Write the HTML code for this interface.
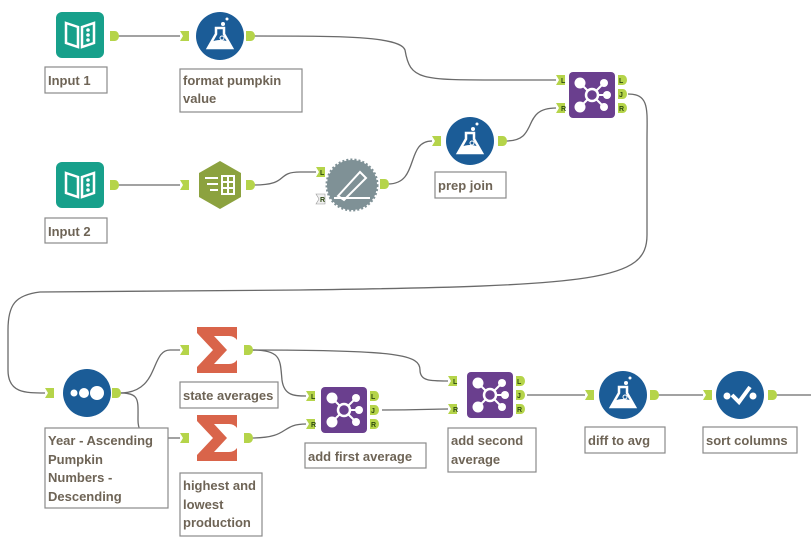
<!DOCTYPE html>
<html><head><meta charset="utf-8"><style>
html,body{margin:0;padding:0;background:#fff;}
svg{display:block;}
text{font-family:"Liberation Sans",sans-serif;font-size:13px;fill:#6e6456;font-weight:bold;}
.lb{fill:#fff;stroke:#8a8a8a;stroke-width:1.2;}
.w{fill:none;stroke:#6a6a6a;stroke-width:1.3;}
.a{fill:#b5d44a;}
.at{font-size:7px;fill:#2e4a10;font-weight:bold;}
</style></head><body>
<svg width="811" height="551" viewBox="0 0 811 551">
<defs>
<path id="ain" d="M0,-5 H9 V5 H0 L3,0 Z"/>
<path id="aout" d="M0,-5 H5 A4,5 0 0 1 5,5 H0 Z"/>
<g id="inp">
<rect x="-24" y="-23" width="48" height="46" rx="6" fill="#17a08b"/>
<path d="M-14,-12 L-2,-8 V12 L-14,8 Z M2,-8 L14,-12 V8 L2,12 Z" fill="none" stroke="#fff" stroke-width="2.5"/>
<circle cx="8" cy="-5" r="1.8" fill="#fff"/><circle cx="8" cy="0" r="1.8" fill="#fff"/><circle cx="8" cy="5" r="1.8" fill="#fff"/>
</g>
<g id="flask">
<circle r="24" fill="#1b5c97"/>
<path d="M-4,-8 V-2 L-12,12 H12 L4,-2 V-8 Z" fill="none" stroke="#fff" stroke-width="2.5"/>
<path d="M-9,6 Q0,2 9,6 L11,11 H-11 Z" fill="#fff"/>
<circle cx="3" cy="-12" r="2" fill="#fff"/><circle cx="7" cy="-17" r="1.5" fill="#fff"/><circle cx="2" cy="2" r="2" fill="none" stroke="#fff"/>
</g>
<g id="join">
<rect x="-23" y="-23" width="46" height="46" rx="4" fill="#6a3f8e"/>
<g stroke="#fff" stroke-width="2"><line x1="-12" y1="-12" x2="12" y2="12"/><line x1="12" y1="-12" x2="-12" y2="12"/><line x1="0" y1="0" x2="14" y2="0"/></g>
<circle cx="-12" cy="-12" r="5.5" fill="#fff"/><circle cx="12" cy="-12" r="4" fill="#fff"/><circle cx="-12" cy="12" r="5.5" fill="#fff"/><circle cx="12" cy="12" r="4" fill="#fff"/><circle cx="15" cy="0" r="4" fill="#fff"/>
<circle r="6" fill="#6a3f8e" stroke="#fff" stroke-width="2.5"/>
</g>
<g id="sum">
<path d="M-20,-23 H20 V-10 Q17,-14 12,-14 H-3 L10,0 L-3,14 H12 Q17,14 20,10 V23 H-20 V17 L-4,0 L-20,-17 Z" fill="#d9644a"/>
</g>
</defs>

<path class="w" d="M118,36 H180"/>
<path class="w" d="M254,36 C340,36 400,36 405,50 C410,80 420,80 500,80 H556"/>
<path class="w" d="M118,185 H180"/>
<path class="w" d="M254,185 C290,185 275,172 300,172 H316"/>
<path class="w" d="M388,184 C420,184 405,141 432,141"/>
<path class="w" d="M506,141 C540,141 520,108 556,108"/>
<path class="w" d="M628,94 C650,94 647,110 647,140 V235 C647,280 600,286 300,290 L40,292 C15,295 8,305 8,330 V370 C8,393 25,393 45,393"/>
<path class="w" d="M120,393 C160,393 150,350 170,350 H180"/>
<path class="w" d="M120,393 C140,393 138,400 138,420 C138,438 150,438 180,438"/>
<path class="w" d="M252,350 C282,350 280,360 282,380 C284,396 295,396 306,396"/>
<path class="w" d="M252,350 C400,350 420,355 420,370 C420,381 430,381 448,381"/>
<path class="w" d="M252,438 C290,438 280,424 306,424"/>
<path class="w" d="M382,410 C420,410 430,409 448,409"/>
<path class="w" d="M527,395 H585"/>
<path class="w" d="M658,395 H703"/>
<path class="w" d="M776,395 H811"/>

<use href="#inp" x="80" y="35"/>
<use href="#aout" class="a" x="110" y="36"/>
<rect class="lb" x="45" y="67" width="62" height="26"/><text x="48" y="85">Input 1</text>
<use href="#ain" class="a" x="180" y="36"/>
<use href="#flask" x="220" y="36"/>
<use href="#aout" class="a" x="246" y="36"/>
<rect class="lb" x="180" y="69" width="122" height="43"/><text x="183" y="85">format pumpkin</text><text x="183" y="103">value</text>
<use href="#inp" x="80" y="185"/>
<use href="#aout" class="a" x="110" y="185"/>
<rect class="lb" x="45" y="218" width="62" height="25"/><text x="48" y="236">Input 2</text>
<use href="#ain" class="a" x="180" y="185"/>
<polygon points="220,161 241,173 241,197 220,209 199,197 199,173" fill="#8ca23f"/>
<g stroke="#fff" stroke-width="2" fill="none"><rect x="222" y="176" width="12" height="18"/><line x1="222" y1="182" x2="234" y2="182"/><line x1="222" y1="188" x2="234" y2="188"/><line x1="228" y1="176" x2="228" y2="194"/><line x1="205" y1="178" x2="218" y2="178"/><line x1="207" y1="184" x2="218" y2="184"/><line x1="210" y1="190" x2="218" y2="190"/></g>
<use href="#aout" class="a" x="246" y="185"/>
<use href="#ain" class="a" x="316" y="172"/><text class="at" x="320" y="175">L</text>
<use href="#ain" fill="#f0f0f0" stroke="#999" stroke-width="0.6" x="316" y="199"/><text class="at" x="320" y="202">R</text>
<circle cx="352" cy="185" r="25" fill="#7f9196" stroke="#7f9196" stroke-width="3" stroke-dasharray="2 2"/>
<path d="M338,196 L360,172 L366,178 L344,200 Z M334,198 H370" fill="none" stroke="#fff" stroke-width="2"/>
<use href="#aout" class="a" x="380" y="184"/>
<use href="#ain" class="a" x="432" y="141"/>
<use href="#flask" x="470" y="141"/>
<use href="#aout" class="a" x="498" y="141"/>
<rect class="lb" x="435" y="172" width="71" height="26"/><text x="438" y="190">prep join</text>
<use href="#ain" class="a" x="556" y="80"/><text class="at" x="561" y="83">L</text>
<use href="#ain" class="a" x="556" y="108"/><text class="at" x="561" y="111">R</text>
<use href="#join" x="592" y="95"/>
<use href="#aout" class="a" x="618" y="80"/><text class="at" x="619" y="83">L</text>
<use href="#aout" class="a" x="618" y="94"/><text class="at" x="619" y="97">J</text>
<use href="#aout" class="a" x="618" y="108"/><text class="at" x="619" y="111">R</text>
<use href="#ain" class="a" x="45" y="393"/>
<circle cx="87" cy="393" r="24" fill="#1b5c97"/>
<circle cx="74" cy="393" r="3.5" fill="#fff"/><circle cx="84" cy="393" r="5" fill="#fff"/><circle cx="97" cy="393" r="7" fill="#fff"/>
<use href="#aout" class="a" x="112" y="393"/>
<rect class="lb" x="45" y="428" width="123" height="80"/>
<text x="48" y="445">Year - Ascending</text><text x="48" y="464">Pumpkin</text><text x="48" y="482">Numbers -</text><text x="48" y="501">Descending</text>
<use href="#ain" class="a" x="180" y="350"/>
<use href="#sum" x="217" y="350"/>
<use href="#aout" class="a" x="244" y="350"/>
<rect class="lb" x="180" y="382" width="98" height="26"/><text x="183" y="400">state averages</text>
<use href="#ain" class="a" x="180" y="438"/>
<use href="#sum" x="217" y="438"/>
<use href="#aout" class="a" x="244" y="438"/>
<rect class="lb" x="180" y="473" width="82" height="63"/><text x="183" y="490">highest and</text><text x="183" y="509">lowest</text><text x="183" y="527">production</text>
<use href="#ain" class="a" x="306" y="396"/><text class="at" x="311" y="399">L</text>
<use href="#ain" class="a" x="306" y="424"/><text class="at" x="311" y="427">R</text>
<use href="#join" x="344" y="410"/>
<use href="#aout" class="a" x="370" y="396"/><text class="at" x="371" y="399">L</text>
<use href="#aout" class="a" x="370" y="410"/><text class="at" x="371" y="413">J</text>
<use href="#aout" class="a" x="370" y="424"/><text class="at" x="371" y="427">R</text>
<rect class="lb" x="305" y="443" width="121" height="25"/><text x="308" y="461">add first average</text>
<use href="#ain" class="a" x="448" y="381"/><text class="at" x="453" y="384">L</text>
<use href="#ain" class="a" x="448" y="409"/><text class="at" x="453" y="412">R</text>
<use href="#join" x="490" y="395"/>
<use href="#aout" class="a" x="516" y="381"/><text class="at" x="517" y="384">L</text>
<use href="#aout" class="a" x="516" y="395"/><text class="at" x="517" y="398">J</text>
<use href="#aout" class="a" x="516" y="409"/><text class="at" x="517" y="412">R</text>
<rect class="lb" x="448" y="428" width="88" height="44"/><text x="451" y="445">add second</text><text x="451" y="464">average</text>
<use href="#ain" class="a" x="585" y="395"/>
<use href="#flask" x="623" y="395"/>
<use href="#aout" class="a" x="650" y="395"/>
<rect class="lb" x="585" y="427" width="80" height="26"/><text x="588" y="445">diff to avg</text>
<use href="#ain" class="a" x="703" y="395"/>
<circle cx="740" cy="395" r="24" fill="#1b5c97"/>
<circle cx="727" cy="396" r="3.5" fill="#fff"/><circle cx="753" cy="396" r="3.5" fill="#fff"/>
<path d="M732,395 L739,402 L750,387" fill="none" stroke="#fff" stroke-width="4"/>
<use href="#aout" class="a" x="768" y="395"/>
<rect class="lb" x="703" y="427" width="94" height="26"/><text x="706" y="445">sort columns</text>
</svg>
</body></html>
